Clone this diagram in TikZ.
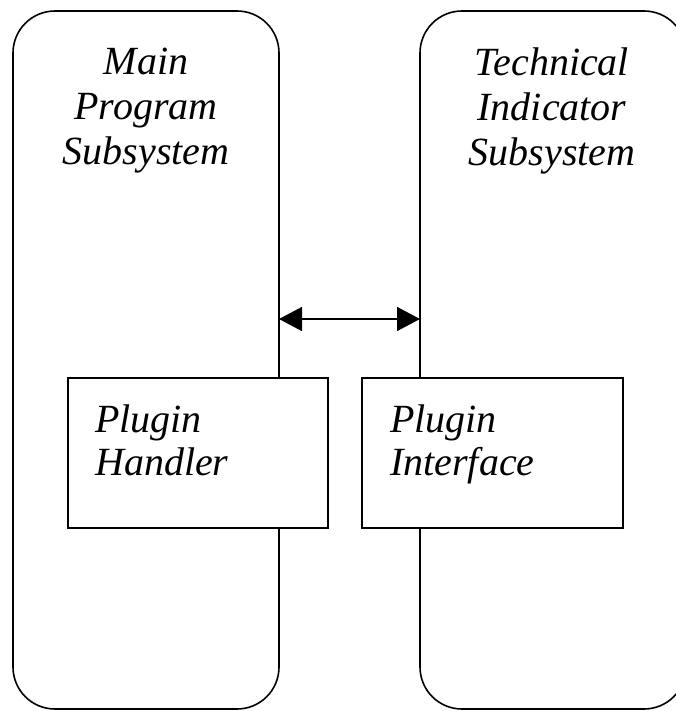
\documentclass[tikz,border=0pt]{standalone}
\usepackage{fontspec}
\setmainfont{Liberation Serif}
\usetikzlibrary{arrows.meta}
\begin{document}
\begin{tikzpicture}[x=1pt,y=-1pt,
  sub/.style={draw=black, line width=1.6pt, rounded corners=42pt, fill=white, inner sep=0pt, outer sep=0pt},
  part/.style={draw=black, line width=1.6pt, fill=white, inner sep=0pt, outer sep=0pt, minimum height=150pt},
  title/.style={align=center, font=\fontsize{40}{45}\selectfont\itshape, inner sep=0pt, anchor=base},
  label/.style={align=left, font=\fontsize{40}{43}\selectfont\itshape, inner sep=0pt, anchor=base west},
  link/.style={line width=1.5pt, {Triangle[length=23pt,width=24pt]}-{Triangle[length=23pt,width=24pt]}}
]
\useasboundingbox (0,0) rectangle (676,711);
\clip (0,0) rectangle (676,711);
\fill[white] (0,0) rectangle (676,711);
\node[sub, minimum width=266pt, minimum height=698pt] (main) at (146,360) {};
\node[sub, minimum width=266pt, minimum height=698pt] (tech) at (553,360) {};
\node[title] (maintitle) at (146,165) {Main\\Program\\Subsystem};
\node[title] (techtitle) at (552,166) {Technical\\Indicator\\Subsystem};
\draw[link] ([yshift=41pt]main.east) -- ([yshift=41pt]tech.west);
\node[part, minimum width=260pt] (handler) at (198,453) {};
\node[part, minimum width=261pt] (iface) at (492.5,453) {};
\node[label] (handlertext) at (95,475) {Plugin\\Handler};
\node[label] (ifacetext) at (390,475) {Plugin\\Interface};
\end{tikzpicture}
\end{document}
